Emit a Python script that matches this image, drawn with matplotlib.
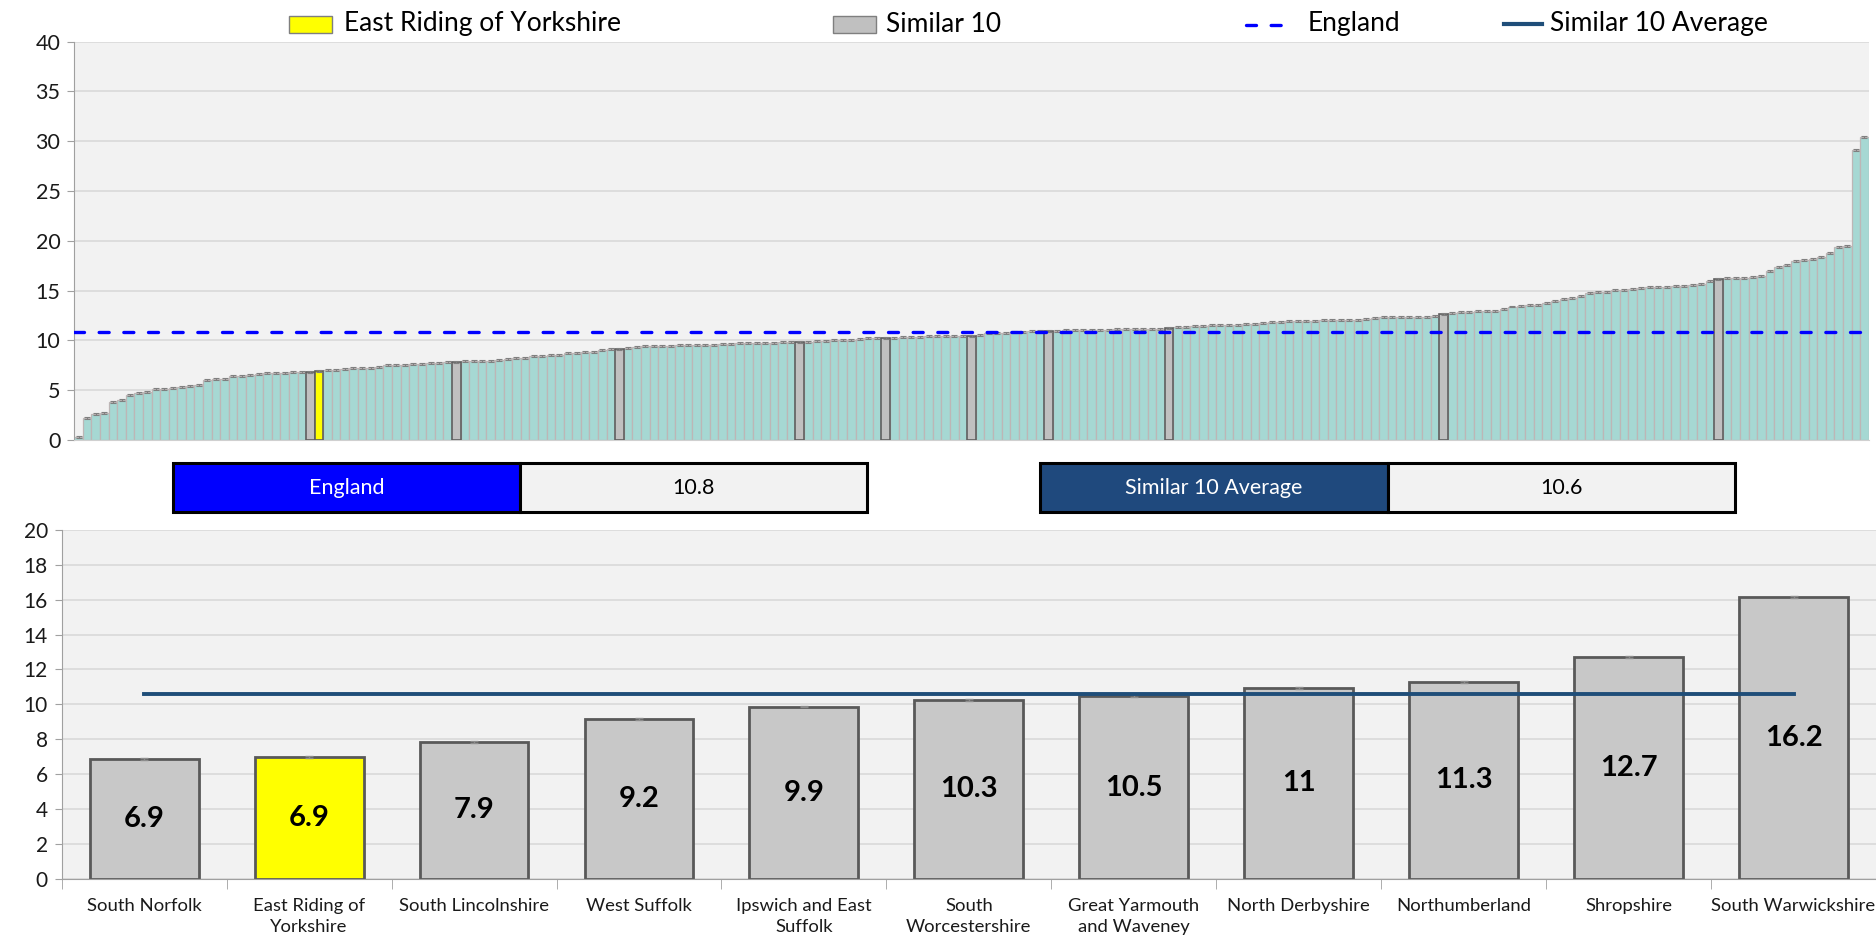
import numpy as np
import matplotlib
matplotlib.use("Agg")
import matplotlib.pyplot as plt
from matplotlib.patches import Rectangle
from matplotlib.lines import Line2D

plt.rcParams['font.family'] = ['Lato', 'DejaVu Sans']

# ---------------- data ----------------
all_values = [
    0.3, 2.2, 2.6, 2.7, 3.8, 4.0, 4.55, 4.75, 4.8, 5.1,
    5.15, 5.25, 5.35, 5.45, 5.55, 6.05, 6.1, 6.15, 6.4, 6.45,
    6.5, 6.6, 6.7, 6.7, 6.75, 6.8, 6.85, 6.86, 6.93, 7.0,
    7.07, 7.15, 7.2, 7.2, 7.2, 7.3, 7.55, 7.55, 7.55, 7.6,
    7.65, 7.75, 7.75, 7.85, 7.87, 7.9, 7.9, 7.95, 7.95, 8.0,
    8.1, 8.2, 8.2, 8.4, 8.45, 8.5, 8.55, 8.7, 8.77, 8.83,
    8.85, 9.0, 9.15, 9.15, 9.23, 9.37, 9.4, 9.43, 9.43, 9.47,
    9.5, 9.5, 9.5, 9.5, 9.5, 9.6, 9.63, 9.7, 9.72, 9.73,
    9.73, 9.75, 9.83, 9.85, 9.87, 9.88, 9.93, 9.95, 10.0, 10.03,
    10.07, 10.13, 10.2, 10.23, 10.25, 10.27, 10.3, 10.3, 10.37, 10.4,
    10.43, 10.43, 10.43, 10.45, 10.47, 10.57, 10.75, 10.77, 10.78, 10.85,
    10.87, 10.9, 10.93, 10.95, 10.97, 11.0, 11.0, 11.03, 11.05, 11.07,
    11.08, 11.1, 11.1, 11.13, 11.13, 11.15, 11.17, 11.25, 11.3, 11.32,
    11.4, 11.43, 11.5, 11.53, 11.53, 11.55, 11.63, 11.67, 11.77, 11.88,
    11.88, 11.93, 11.97, 11.97, 11.98, 12.03, 12.03, 12.07, 12.08, 12.08,
    12.13, 12.2, 12.3, 12.3, 12.3, 12.3, 12.33, 12.37, 12.43, 12.68,
    12.73, 12.8, 12.83, 12.9, 12.93, 12.97, 13.1, 13.4, 13.47, 13.57,
    13.57, 13.8, 13.97, 14.2, 14.3, 14.47, 14.73, 14.83, 14.85, 15.07,
    15.1, 15.17, 15.3, 15.33, 15.33, 15.4, 15.47, 15.47, 15.57, 15.67,
    15.93, 16.15, 16.23, 16.27, 16.27, 16.37, 16.5, 17.0, 17.33, 17.6,
    18.0, 18.07, 18.17, 18.33, 18.73, 19.33, 19.5, 29.13, 30.4,
]
similar_positions = [27, 44, 63, 84, 94, 104, 113, 127, 159, 191]
focus_position = 28

areas = ["South Norfolk", "East Riding of\nYorkshire", "South Lincolnshire",
         "West Suffolk", "Ipswich and East\nSuffolk", "South\nWorcestershire",
         "Great Yarmouth\nand Waveney", "North Derbyshire", "Northumberland",
         "Shropshire", "South Warwickshire"]
area_values = [6.86, 6.96, 7.84, 9.14, 9.87, 10.25, 10.46, 10.94, 11.28, 12.7, 16.16]
area_labels = ["6.9", "6.9", "7.9", "9.2", "9.9", "10.3", "10.5", "11", "11.3", "12.7", "16.2"]
focus_area = "East Riding of Yorkshire"

england_value = 10.8
similar_avg = 10.6

# ---------------- figure ----------------
W, H = 1876, 939
fig = plt.figure(figsize=(W / 100, H / 100), dpi=100)
fig.patch.set_facecolor('white')


def rect(l, t, r, b):
    return [l / W, 1 - b / H, (r - l) / W, (b - t) / H]


TEAL = '#A6D8D3'
GREY = '#C0C0C0'
YELLOW = '#FFFF00'
BG = '#F2F2F2'
GRID = '#D9D9D9'

# ---------- top chart ----------
ax1 = fig.add_axes(rect(74.3, 41.5, 1868.7, 440))
ax1.set_facecolor(BG)
vals = np.array(all_values)
n = len(vals)
x = np.arange(n)
ax1.bar(x, vals, width=1.0, color=TEAL, edgecolor='#BDB6B6', linewidth=0.9, zorder=2)
ax1.bar(similar_positions, vals[similar_positions], width=1.0, color=GREY,
        edgecolor='#5F5F5F', linewidth=1.2, zorder=3)
ax1.bar([focus_position], [vals[focus_position]], width=1.0, color=YELLOW,
        edgecolor='#5F5F5F', linewidth=1.2, zorder=3)
ax1.errorbar(x, vals, yerr=0.1, fmt='none', ecolor='#808080', elinewidth=0.8,
             capsize=2.5, capthick=0.8, zorder=4)
ax1.axhline(england_value, color='#0000FF', lw=2.4, ls=(0, (3.0, 4.4)),
            dash_capstyle='round', zorder=5)
ax1.set_xlim(-0.5, n - 0.5)
ax1.set_ylim(0, 40)
ax1.set_yticks(np.arange(0, 41, 5))
ax1.set_xticks([])
ax1.yaxis.grid(True, color=GRID, lw=1.2, zorder=0)
ax1.set_axisbelow(True)
for s in ['top', 'right']:
    ax1.spines[s].set_visible(False)
ax1.spines['left'].set_color('#A0A0A0')
ax1.spines['bottom'].set_color('#D0D0D0')
ax1.tick_params(axis='y', labelsize=15.5, length=5, color='#A0A0A0', labelcolor='#1A1A1A', pad=5)

# ---------- legend (manual) ----------
def fy(y):
    return 1 - y / H

LEG_FS = 19
fig.add_artist(Rectangle((289 / W, fy(33)), 43 / W, 17 / H, transform=fig.transFigure,
                         facecolor=YELLOW, edgecolor='#7F7F7F', lw=1))
fig.text(344 / W, fy(24), focus_area, fontsize=LEG_FS, va='center', ha='left')
fig.add_artist(Rectangle((833 / W, fy(33)), 43 / W, 17 / H, transform=fig.transFigure,
                         facecolor=GREY, edgecolor='#7F7F7F', lw=1))
fig.text(886 / W, fy(24), "Similar 10", fontsize=LEG_FS, va='center', ha='left')
fig.add_artist(Line2D([1246 / W, 1288 / W], [fy(25), fy(25)], transform=fig.transFigure,
                      color='#0000FF', lw=2.4, ls=(0, (3.0, 4.4)), dash_capstyle='round'))
fig.text(1308 / W, fy(24), "England", fontsize=LEG_FS, va='center', ha='left')
fig.add_artist(Line2D([1504 / W, 1542 / W], [fy(24), fy(24)], transform=fig.transFigure,
                      color='#1F4E79', lw=3))
fig.text(1550 / W, fy(24), "Similar 10 Average", fontsize=LEG_FS, va='center', ha='left')

# ---------- value boxes ----------
def box(x0, x1, y0, y1, fc, text, tc):
    fig.add_artist(Rectangle((x0 / W, fy(y1)), (x1 - x0) / W, (y1 - y0) / H,
                             transform=fig.transFigure, facecolor=fc,
                             edgecolor='black', lw=2.2))
    fig.text((x0 + x1) / 2 / W, fy((y0 + y1) / 2), text, fontsize=15.5,
             color=tc, ha='center', va='center')

box(172.7, 519.8, 462.7, 512.3, '#0000FF', "England", 'white')
box(519.8, 866.9, 462.7, 512.3, BG, f"{england_value}", 'black')
box(1040.4, 1387.9, 462.7, 512.3, '#1F497D', "Similar 10 Average", 'white')
box(1387.9, 1734.8, 462.7, 512.3, BG, f"{similar_avg}", 'black')

# ---------- bottom chart ----------
ax2 = fig.add_axes(rect(61.7, 530, 1876, 878.7))
ax2.set_facecolor(BG)
m = len(area_values)
xb = np.arange(m)
bcolors = [YELLOW if a.replace('\n', ' ') == focus_area else '#C8C8C8' for a in areas]
ax2.bar(xb, area_values, width=0.66, color=bcolors, edgecolor='#595959', linewidth=2.0, zorder=2)
ax2.errorbar(xb, area_values, yerr=0.05, fmt='none', ecolor='#8C8C8C', elinewidth=1,
             capsize=3, capthick=1, zorder=3)
ax2.plot([xb[0], xb[-1]], [similar_avg, similar_avg], color='#1F4E79', lw=2.8, zorder=4)
for xi, v, lab in zip(xb, area_values, area_labels):
    ax2.text(xi, v / 2, lab, ha='center', va='center', fontsize=21,
             fontweight='bold', color='black', zorder=5)
ax2.set_xlim(-0.5, m - 0.5)
ax2.set_ylim(0, 20)
ax2.set_yticks(np.arange(0, 21, 2))
ax2.set_xticks(xb)
ax2.set_xticklabels(areas, fontsize=13.3, linespacing=1.4)
ax2.set_xticks(np.arange(-0.5, m, 1), minor=True)
ax2.tick_params(axis='x', which='major', length=0, pad=14, labelcolor='#1A1A1A')
ax2.tick_params(axis='x', which='minor', length=7, color='#A0A0A0')
ax2.tick_params(axis='y', labelsize=15, length=5, color='#A0A0A0', labelcolor='#1A1A1A', pad=5)
ax2.yaxis.grid(True, color=GRID, lw=1.2, zorder=0)
ax2.set_axisbelow(True)
for s in ['top', 'right']:
    ax2.spines[s].set_visible(False)
ax2.spines['left'].set_color('#A0A0A0')
ax2.spines['bottom'].set_color('#A0A0A0')

fig.savefig('out.png', dpi=100, facecolor='white')
